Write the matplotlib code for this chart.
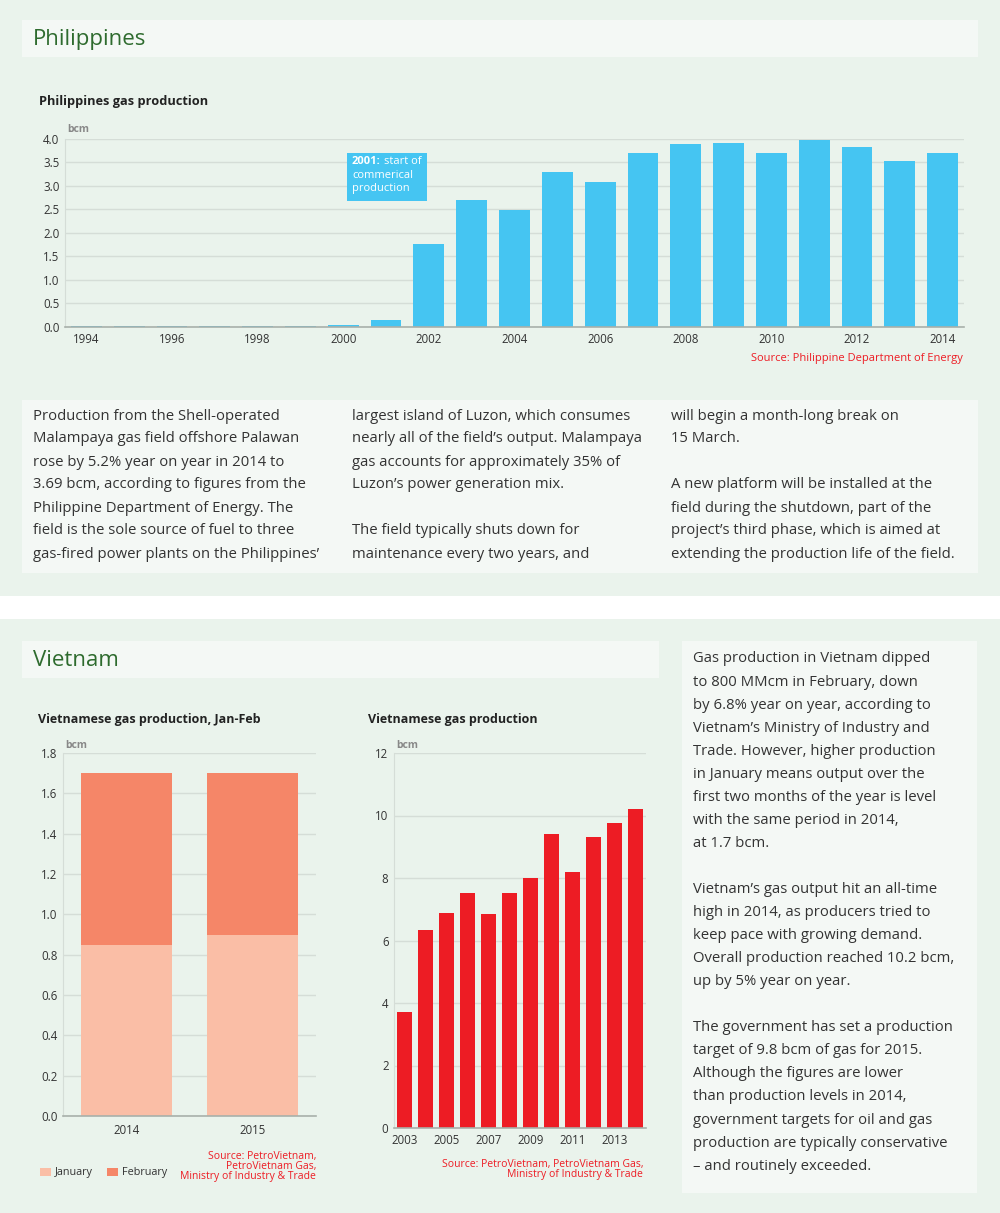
import matplotlib
matplotlib.use("Agg")
import matplotlib.pyplot as plt
from matplotlib.patches import Rectangle
import numpy as np

plt.rcParams['font.family'] = ['Open Sans', 'DejaVu Sans']

# ---------------- data ----------------
ph_years = list(range(1994, 2015))
ph_values = [0.03, 0.03, 0.03, 0.03, 0.03, 0.03, 0.04, 0.15, 1.76, 2.69, 2.48,
             3.29, 3.08, 3.69, 3.89, 3.91, 3.69, 3.97, 3.82, 3.52, 3.69]

vn_month_years = ['2014', '2015']
vn_january = [0.85, 0.90]
vn_february = [0.85, 0.80]

vn_years = list(range(2003, 2015))
vn_values = [3.71, 6.34, 6.89, 7.52, 6.86, 7.51, 8.00, 9.40, 8.20, 9.30, 9.75, 10.2]

W, H = 1000, 1213
BG = '#EAF3EC'
PANEL = '#F4F8F5'
TXT = '#333333'
RED = '#ED1C24'
GRID = '#D5DDD7'

fig = plt.figure(figsize=(W / 100, H / 100), dpi=100)
fig.patch.set_facecolor('white')


def rect(x, y, w, h, color):
    fig.add_artist(Rectangle((x / W, 1 - (y + h) / H), w / W, h / H,
                             transform=fig.transFigure, facecolor=color,
                             edgecolor='none', zorder=0))


def text(x, y, s, **kw):
    kw.setdefault('va', 'center')
    kw.setdefault('ha', 'left')
    fig.text(x / W, 1 - y / H, s, **kw)


def axes_px(x0, y0, x1, y1):
    return fig.add_axes([x0 / W, 1 - y1 / H, (x1 - x0) / W, (y1 - y0) / H])


# backgrounds
rect(0, 0, W, 596, BG)
rect(0, 619, W, H - 619, BG)
rect(22, 20, 956, 37, PANEL)
rect(22, 400, 956, 173, PANEL)
rect(22, 641, 637, 37, PANEL)
rect(682, 641, 295, 552, PANEL)

text(33, 39, 'Philippines', fontsize=16, color='#2E6B2E')
text(33, 660, 'Vietnam', fontsize=16, color='#2E6B2E')


def style_axes(ax):
    ax.set_facecolor('none')
    for s in ['top', 'right']:
        ax.spines[s].set_visible(False)
    ax.spines['left'].set_color(GRID)
    ax.spines['bottom'].set_color('#A8B0AA')
    ax.spines['bottom'].set_linewidth(1.2)
    ax.yaxis.grid(True, color=GRID, linewidth=1)
    ax.set_axisbelow(True)
    ax.tick_params(axis='both', length=0, labelsize=8.3, colors=TXT, pad=4)


# ---------------- Philippines chart ----------------
text(39, 101, 'Philippines gas production', fontsize=9.2, fontweight='bold', color='#222222')
ax1 = axes_px(65, 138.7, 964, 327)
x = np.arange(len(ph_years))
ax1.bar(x, ph_values, width=0.72, color='#45C5F2', zorder=2)
ax1.set_xlim(-0.5, len(ph_years) - 0.5)
ax1.set_ylim(0, 4.0)
ax1.set_yticks(np.arange(0, 4.01, 0.5))
ax1.set_yticklabels([f'{v:.1f}' for v in np.arange(0, 4.01, 0.5)])
ax1.set_xticks(x[::2])
ax1.set_xticklabels([str(y) for y in ph_years[::2]])
style_axes(ax1)
text(67, 130, 'bcm', fontsize=7.5, fontweight='bold', color='#888888')
fig.add_artist(Rectangle((347 / W, 1 - 201 / H), 80 / W, 48 / H, transform=fig.transFigure,
                         facecolor='#45C5F2', edgecolor='none', zorder=5))
fig.text(352 / W, 1 - 161 / H, '2001:', fontsize=8, fontweight='bold', color='white',
         va='center', zorder=6)
fig.text(384 / W, 1 - 161 / H, 'start of', fontsize=8, color='white', va='center', zorder=6)
fig.text(352 / W, 1 - 175 / H, 'commerical', fontsize=8, color='white', va='center', zorder=6)
fig.text(352 / W, 1 - 189 / H, 'production', fontsize=8, color='white', va='center', zorder=6)
text(963, 358, 'Source: Philippine Department of Energy', fontsize=8, color=RED, ha='right')

# ---------------- Philippines text ----------------
col1 = ['Production from the Shell-operated',
        'Malampaya gas field offshore Palawan',
        'rose by 5.2% year on year in 2014 to',
        '3.69 bcm, according to figures from the',
        'Philippine Department of Energy. The',
        'field is the sole source of fuel to three',
        'gas-fired power plants on the Philippines’']
col2 = ['largest island of Luzon, which consumes',
        'nearly all of the field’s output. Malampaya',
        'gas accounts for approximately 35% of',
        'Luzon’s power generation mix.',
        '',
        'The field typically shuts down for',
        'maintenance every two years, and']
col3 = ['will begin a month-long break on',
        '15 March.',
        '',
        'A new platform will be installed at the',
        'field during the shutdown, part of the',
        'project’s third phase, which is aimed at',
        'extending the production life of the field.']
for cx, lines in [(33, col1), (352, col2), (671, col3)]:
    for i, ln in enumerate(lines):
        if ln:
            text(cx, 416 + 23 * i, ln, fontsize=10.7, color=TXT)

# ---------------- Vietnam Jan-Feb ----------------
text(38, 720, 'Vietnamese gas production, Jan-Feb', fontsize=9, fontweight='bold', color='#222222')
ax2 = axes_px(63, 753, 316, 1116)
xb = np.arange(len(vn_month_years))
ax2.bar(xb, vn_january, width=0.72, color='#FABEA6', zorder=2, label='January')
ax2.bar(xb, vn_february, bottom=vn_january, width=0.72, color='#F58668', zorder=2, label='February')
ax2.set_xlim(-0.5, 1.5)
ax2.set_ylim(0, 1.8)
ax2.set_yticks(np.arange(0, 1.81, 0.2))
ax2.set_yticklabels([f'{v:.1f}' for v in np.arange(0, 1.81, 0.2)])
ax2.set_xticks(xb)
ax2.set_xticklabels(vn_month_years)
style_axes(ax2)
ax2.tick_params(axis='x', pad=6)
text(65, 746, 'bcm', fontsize=7.5, fontweight='bold', color='#888888')
h, l = ax2.get_legend_handles_labels()
leg = fig.legend(h, l, loc='center left', bbox_to_anchor=(30 / W, 1 - 1173 / H), ncol=2,
                 frameon=False, fontsize=7.8, handlelength=1.0, handleheight=0.8,
                 handletextpad=0.4, columnspacing=1.3, labelcolor=TXT)
for i, ln in enumerate(['Source: PetroVietnam,', 'PetroVietnam Gas,',
                        'Ministry of Industry & Trade']):
    text(316, 1156 + 10 * i, ln, fontsize=7.5, color=RED, ha='right')

# ---------------- Vietnam annual ----------------
text(368, 720, 'Vietnamese gas production', fontsize=9, fontweight='bold', color='#222222')
ax3 = axes_px(394, 753, 646, 1128)
xv = np.arange(len(vn_years))
ax3.bar(xv, vn_values, width=0.71, color=RED, zorder=2)
ax3.set_xlim(-0.5, len(vn_years) - 0.5)
ax3.set_ylim(0, 12)
ax3.set_yticks(np.arange(0, 13, 2))
ax3.set_xticks(xv[::2])
ax3.set_xticklabels([str(y) for y in vn_years[::2]])
style_axes(ax3)
text(396, 746, 'bcm', fontsize=7.5, fontweight='bold', color='#888888')
for i, ln in enumerate(['Source: PetroVietnam, PetroVietnam Gas,',
                        'Ministry of Industry & Trade']):
    text(643, 1164 + 10 * i, ln, fontsize=7.5, color=RED, ha='right')

# ---------------- Vietnam text ----------------
vtext = ['Gas production in Vietnam dipped',
         'to 800 MMcm in February, down',
         'by 6.8% year on year, according to',
         'Vietnam’s Ministry of Industry and',
         'Trade. However, higher production',
         'in January means output over the',
         'first two months of the year is level',
         'with the same period in 2014,',
         'at 1.7 bcm.',
         '',
         'Vietnam’s gas output hit an all-time',
         'high in 2014, as producers tried to',
         'keep pace with growing demand.',
         'Overall production reached 10.2 bcm,',
         'up by 5% year on year.',
         '',
         'The government has set a production',
         'target of 9.8 bcm of gas for 2015.',
         'Although the figures are lower',
         'than production levels in 2014,',
         'government targets for oil and gas',
         'production are typically conservative',
         '– and routinely exceeded.']
for i, ln in enumerate(vtext):
    if ln:
        text(693, 659 + 23.05 * i, ln, fontsize=10.7, color=TXT)

fig.savefig('out.png', dpi=100, facecolor=fig.get_facecolor())
